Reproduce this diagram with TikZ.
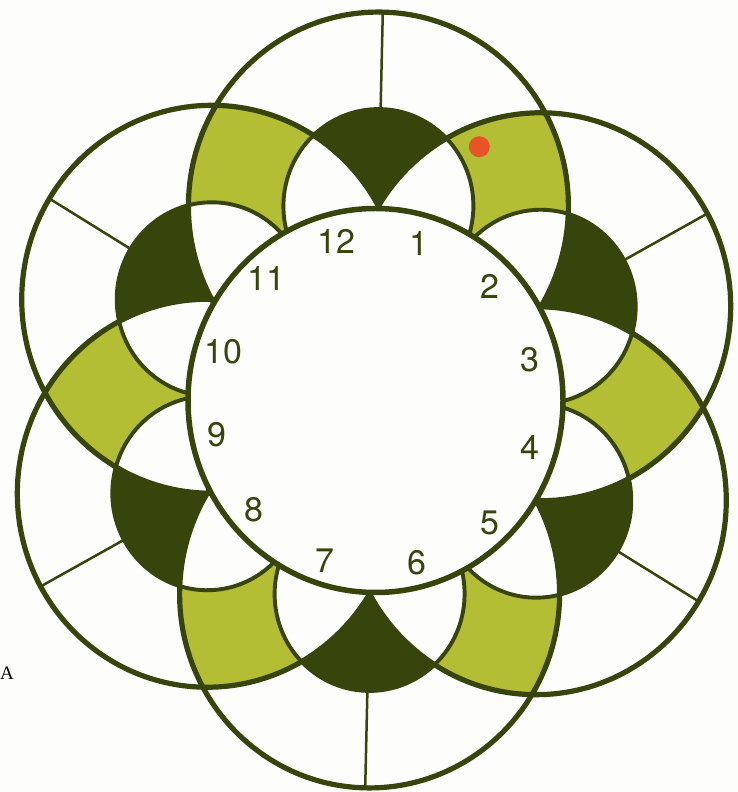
\documentclass[tikz,border=0pt]{standalone}
\usepackage{fontspec}
\setmainfont{TeX Gyre Heros}
\newfontfamily\serifA{Liberation Serif}
\definecolor{dkol}{RGB}{55,68,12}
\definecolor{ltgr}{RGB}{180,190,52}
\definecolor{reddot}{RGB}{232,84,42}
\definecolor{bgc}{RGB}{253,253,251}
\tikzset{
  bigr/.style={x radius=190, y radius=194},
  innr/.style={x radius=95, y radius=97},
  bigline/.style={draw=dkol, line width=5.2},
  innline/.style={draw=dkol, line width=3.9},
  spokeline/.style={draw=dkol, line width=2.5},
  numtxt/.style={text=dkol, inner sep=0, font=\fontsize{34}{34}\selectfont}
}
\begin{document}
\begin{tikzpicture}[x=1pt,y=1pt]
\useasboundingbox (0,0) rectangle (738,792);
\fill[bgc] (0,0) rectangle (738,792);
\begin{scope}[shift={(374,392)}, rotate=-1.3]
  \foreach \k/\a in {0/90,1/30,2/-30,3/-90,4/-150,5/150}{
    \coordinate (C\k) at ({190*cos(\a)},{194*sin(\a)});
    \coordinate (S\k) at ({380*cos(\a)},{388*sin(\a)});
    \coordinate (T\k) at ({285*cos(\a)},{291*sin(\a)});
  }
  % green lenses
  \foreach \i/\j in {0/1,1/2,2/3,3/4,4/5,5/0}{
    \begin{scope}
      \clip (C\i) ellipse [bigr];
      \fill[ltgr] (C\j) ellipse [bigr];
    \end{scope}
  }
  % dark inner discs
  \foreach \k in {0,...,5}{ \fill[dkol] (C\k) ellipse [innr]; }
  % white parts of inner discs inside neighbouring big circles
  \foreach \k/\p/\n in {0/5/1,1/0/2,2/1/3,3/2/4,4/3/5,5/4/0}{
    \begin{scope}
      \clip (C\k) ellipse [innr];
      \fill[bgc] (C\p) ellipse [bigr] (C\n) ellipse [bigr];
    \end{scope}
  }
  % spokes
  \foreach \k in {0,...,5}{ \draw[spokeline] (S\k) -- (T\k); }
  % outlines
  \foreach \k in {0,...,5}{
    \draw[bigline] (C\k) ellipse [bigr];
    \draw[innline] (C\k) ellipse [innr];
  }
\end{scope}
% clock face
\filldraw[fill=bgc, draw=dkol, line width=5.5] (375.5,391.5) ellipse [x radius=187.5, y radius=192];
% numbers
\node[numtxt] (n12) at (336.8,550.8) {12};
\node[numtxt] (n1)  at (419.2,548.3) {1};
\node[numtxt] (n2)  at (489.9,505.6) {2};
\node[numtxt] (n3)  at (529.9,432.7) {3};
\node[numtxt] (n4)  at (529.9,344.8) {4};
\node[numtxt] (n5)  at (489.9,269.4) {5};
\node[numtxt] (n6)  at (416.9,229.2) {6};
\node[numtxt] (n7)  at (325.0,231.7) {7};
\node[numtxt] (n8)  at (254.4,281.9) {8};
\node[numtxt] (n9)  at (216.7,357.3) {9};
\node[numtxt] (n10) at (223.7,440.2) {10};
\node[numtxt] (n11) at (266.1,513.1) {11};
% red dot
\fill[reddot] (479.3,645.3) circle (10.5);
% stray letter at left edge
\node[inner sep=0, text=black, font=\serifA\fontsize{19}{19}\selectfont] (lblA) at (7,118.5) {A};
\end{tikzpicture}
\end{document}
